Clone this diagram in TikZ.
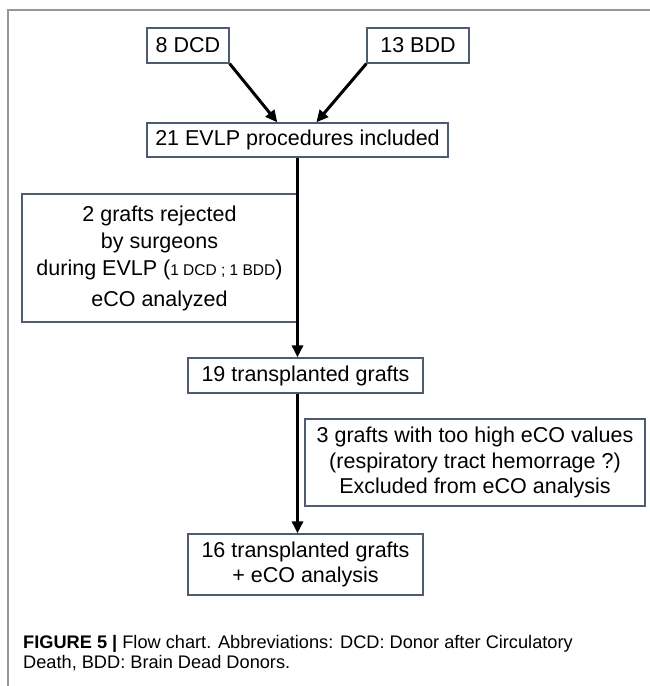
\documentclass[tikz,border=0pt]{standalone}
\usepackage{fontspec}
\setmainfont{Liberation Sans}
\newfontfamily\capfont{Liberation Sans}
\usepackage{tikz}
\usetikzlibrary{calc,arrows.meta}

\definecolor{framegray}{RGB}{150,150,150}
\definecolor{boxedge}{RGB}{80,90,112}

\begin{document}
\begin{tikzpicture}[x=1pt,y=-1pt,
    box/.style={draw=boxedge,line width=1.3pt,inner sep=0pt,align=center,
      font=\fontsize{21.5}{27}\selectfont},
    flow/.style={line width=3pt,-{Triangle[length=12pt,width=11pt]}}]
  \useasboundingbox (0,0) rectangle (650,686);
  % frame of the figure
  \draw[framegray,line width=1.5pt] (8,686) -- (8,10) -- (650,10);
  % donors
  \node[box,minimum width=82pt,minimum height=35pt] (dcd) at (188,45.5) {8 DCD};
  \node[box,minimum width=102pt,minimum height=35pt] (bdd) at (418,45.5) {13 BDD};
  \node[box,minimum width=301pt,minimum height=34pt] (evlp) at (297.5,140) {21 EVLP procedures included};
  % side boxes
  \node[box,minimum width=275pt,minimum height=128pt] (rejected) at (159.5,258)
    {2 grafts rejected\\ by surgeons\\ during EVLP ({\fontsize{15.5}{27}\selectfont 1 DCD ; 1 BDD})\\[4pt] eCO analyzed};
  \node[box,minimum width=235pt,minimum height=35pt] (tx19) at (305.5,375.5) {19 transplanted grafts};
  \node[box,font=\fontsize{21.5}{25.5}\selectfont,minimum width=340pt,minimum height=87pt] (excluded) at (475,462.5)
    {3 grafts with too high eCO values\\ (respiratory tract hemorrage ?)\\ Excluded from eCO analysis};
  \node[box,font=\fontsize{21.5}{25}\selectfont,minimum width=235pt,minimum height=61pt] (tx16) at (305.5,564.5)
    {16 transplanted grafts\\ + eCO analysis};
  % arrows
  \draw[flow] (dcd.south east) -- ($(evlp.north west)+(131,0)$);
  \draw[flow] (bdd.south west) -- ($(evlp.north west)+(170,0)$);
  \draw[flow] (evlp.south) -- (evlp.south |- tx19.north);
  \draw[flow] (evlp.south |- tx19.south) -- (evlp.south |- tx16.north);
  % caption
  \node[anchor=north west,inner sep=0pt,align=left,font=\capfont\fontsize{18.2}{20}\selectfont] (caption) at (23,635)
    {\textbf{FIGURE 5 |} Flow chart. Abbreviations: DCD: Donor after Circulatory\\ Death, BDD: Brain Dead Donors.};
\end{tikzpicture}
\end{document}
